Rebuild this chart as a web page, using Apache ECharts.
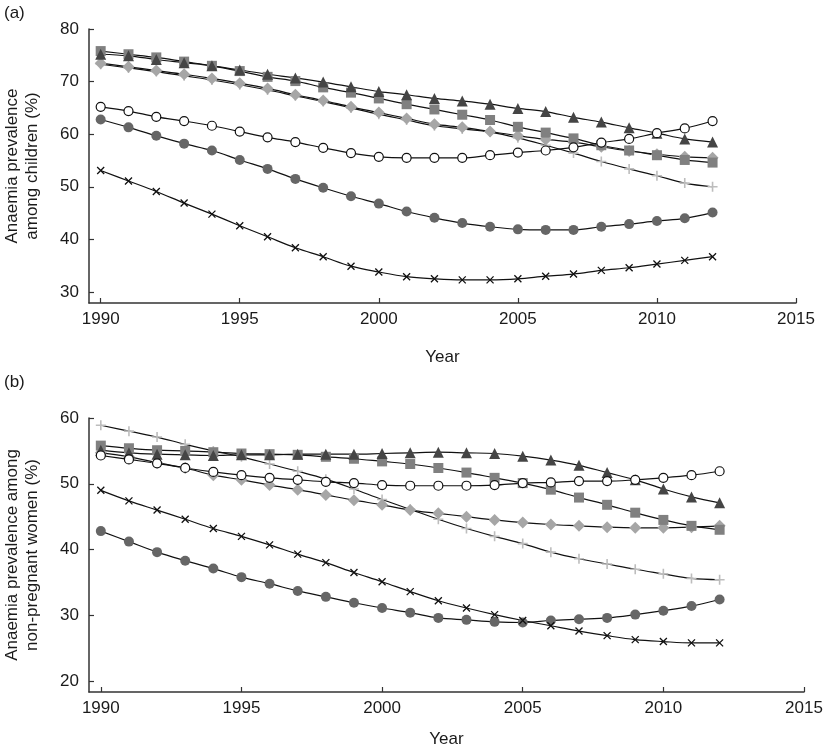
<!DOCTYPE html>
<html>
<head>
<meta charset="utf-8">
<script src="https://cdn.jsdelivr.net/npm/echarts@6/dist/echarts.min.js"></script>
<style>
html,body{margin:0;padding:0;background:#fff;}
#chart{width:827px;height:749px;}
</style>
</head>
<body>
<div id="chart"></div>
<script>
const years = [1990,1991,1992,1993,1994,1995,1996,1997,1998,1999,2000,2001,2002,2003,2004,2005,2006,2007,2008,2009,2010,2011,2012];
const xTicks = [1990,1995,2000,2005,2010,2015];
const yTicksA = [30,40,50,60,70,80];
const yTicksB = [20,30,40,50,60];

// Panel (a): children
const aOpenCircle = [65.2,64.4,63.3,62.5,61.6,60.5,59.4,58.5,57.4,56.4,55.7,55.5,55.5,55.5,56.0,56.5,56.9,57.5,58.4,59.1,60.2,61.1,62.5];
const aFilledCircle = [62.8,61.3,59.7,58.2,56.9,55.1,53.4,51.5,49.8,48.2,46.8,45.3,44.1,43.1,42.4,41.9,41.8,41.8,42.4,42.9,43.5,44.0,45.1];
const aCross = [53.1,51.1,49.1,46.9,44.8,42.6,40.5,38.4,36.7,34.9,33.8,32.9,32.5,32.3,32.3,32.5,33.0,33.4,34.1,34.6,35.3,36.0,36.7];
const aPlus = [73.3,72.6,71.9,71.1,70.3,69.4,68.4,67.3,66.2,65.0,63.8,62.7,61.6,61.0,60.4,59.3,57.9,56.4,54.8,53.4,52.1,50.7,50.0];
const aDiamond = [73.5,72.8,72.1,71.4,70.6,69.7,68.7,67.5,66.4,65.2,64.1,63.0,61.9,61.3,60.5,59.7,59.0,58.5,57.6,56.8,56.2,55.7,55.5];
const aSquare = [75.8,75.2,74.6,73.8,73.0,72.0,70.9,70.1,68.9,67.9,66.8,65.7,64.7,63.7,62.7,61.4,60.3,59.2,57.9,56.9,56.0,55.1,54.6];
const aTriangle = [75.2,74.9,74.2,73.6,73.0,72.2,71.4,70.7,69.9,69.0,68.1,67.5,66.8,66.3,65.7,64.9,64.3,63.2,62.3,61.2,60.2,59.1,58.5];

// Panel (b): non-pregnant women
const bOpenCircle = [54.3,53.7,53.1,52.4,51.8,51.3,50.9,50.6,50.3,50.1,49.8,49.7,49.7,49.7,49.8,50.1,50.2,50.4,50.4,50.6,50.9,51.3,51.9];
const bFilledCircle = [42.8,41.2,39.6,38.3,37.1,35.8,34.8,33.7,32.8,31.9,31.1,30.4,29.6,29.3,29.0,28.9,29.2,29.4,29.6,30.1,30.7,31.4,32.4];
const bCross = [49.0,47.4,46.0,44.6,43.2,42.0,40.7,39.3,38.0,36.5,35.1,33.6,32.2,31.1,30.1,29.2,28.4,27.6,26.9,26.3,26.0,25.8,25.8];
const bPlus = [58.9,58.0,57.1,56.0,55.0,54.1,53.0,51.9,50.7,49.2,47.6,46.1,44.6,43.2,42.0,40.9,39.6,38.6,37.8,37.0,36.3,35.6,35.4];
const bDiamond = [54.7,54.1,53.2,52.4,51.3,50.6,49.8,49.1,48.3,47.5,46.8,46.0,45.5,45.0,44.5,44.1,43.8,43.6,43.4,43.3,43.3,43.4,43.6];
const bSquare = [55.8,55.4,55.1,55.0,54.8,54.6,54.5,54.4,54.1,53.8,53.4,53.0,52.4,51.7,50.9,50.1,49.1,47.9,46.8,45.6,44.5,43.6,43.0];
const bTriangle = [55.1,54.7,54.5,54.4,54.3,54.4,54.4,54.5,54.5,54.5,54.6,54.7,54.8,54.7,54.6,54.2,53.6,52.8,51.7,50.6,49.2,48.0,47.1];

const FONT = "'Liberation Sans', Arial, sans-serif";
const PLUS = 'path://M0,5L10,5M5,0L5,10';
const CROSS = 'path://M0,0L10,10M0,10L10,0';

function pairs(vals){ return years.map((y,i)=>[y, vals[i]]); }

const styles = {
  openCircle: {symbol:'circle', symbolSize:9, itemStyle:{color:'#ffffff', borderColor:'#111', borderWidth:1.2}},
  filledCircle: {symbol:'circle', symbolSize:10, itemStyle:{color:'#666666', borderWidth:0}},
  cross: {symbol:CROSS, symbolSize:7, itemStyle:{color:'none', borderColor:'#111', borderWidth:1.3}},
  plus: {symbol:PLUS, symbolSize:10, itemStyle:{color:'none', borderColor:'#bdbdbd', borderWidth:1.6}},
  diamond: {symbol:'diamond', symbolSize:12, itemStyle:{color:'#a6a6a6', borderWidth:0}},
  square: {symbol:'rect', symbolSize:10, itemStyle:{color:'#808080', borderWidth:0}},
  triangle: {symbol:'triangle', symbolSize:11, itemStyle:{color:'#454545', borderWidth:0}}
};

function mk(name, vals, key, idx){
  const s = styles[key];
  return {
    name: name, type:'line', xAxisIndex: idx, yAxisIndex: idx,
    data: pairs(vals), smooth: 0.35, showAllSymbol: true,
    symbol: s.symbol, symbolSize: s.symbolSize, itemStyle: s.itemStyle,
    lineStyle: {color:'#111', width:1.2}, emphasis:{disabled:true}, animation:false, z: 2
  };
}

function xAxis(gridIndex){
  return {
    type:'value', gridIndex: gridIndex, min: 1989.58, max: 2015,
    name:'Year', nameLocation:'middle', nameGap: gridIndex===0 ? 46 : 39,
    nameTextStyle:{fontFamily:FONT, fontSize:17, color:'#1a1a1a'},
    axisLine:{show:true, lineStyle:{color:'#333', width:1.5}},
    axisTick:{show:true, inside:true, length:5, customValues: xTicks, lineStyle:{color:'#333', width:1.2}},
    axisLabel:{customValues: xTicks, formatter: v => String(Math.round(v)), fontFamily:FONT, fontSize:17, color:'#1a1a1a', margin:8},
    splitLine:{show:false}
  };
}
function yAxis(gridIndex, min, max, ticks, name){
  return {
    type:'value', gridIndex: gridIndex, min: min, max: max,
    name: name, nameLocation:'middle', nameGap: 47, nameRotate: 90,
    nameTextStyle:{fontFamily:FONT, fontSize:17, color:'#1a1a1a', lineHeight:20},
    axisLine:{show:true, lineStyle:{color:'#333', width:1.5}},
    axisTick:{show:true, inside:true, length:5, customValues: ticks, lineStyle:{color:'#333', width:1.2}},
    axisLabel:{customValues: ticks, formatter: v => String(Math.round(v)), fontFamily:FONT, fontSize:17, color:'#1a1a1a', margin:10},
    splitLine:{show:false}
  };
}

const chart = echarts.init(document.getElementById('chart'), null, {renderer:'canvas'});
chart.setOption({
  backgroundColor:'#ffffff',
  animation:false,
  graphic:[
    {type:'text', left:4, top:5, style:{text:'(a)', font:"17px 'Liberation Sans', Arial", fill:'#1a1a1a'}},
    {type:'text', left:4, top:374, style:{text:'(b)', font:"17px 'Liberation Sans', Arial", fill:'#1a1a1a'}}
  ],
  grid:[
    {left:89, top:29, width:707, height:274, containLabel:false, outerBoundsMode:'none'},
    {left:89, top:418, width:715, height:274, containLabel:false, outerBoundsMode:'none'}
  ],
  xAxis:[xAxis(0), xAxis(1)],
  yAxis:[
    yAxis(0, 27.9, 80, yTicksA, 'Anaemia prevalence\namong children (%)'),
    yAxis(1, 18.33, 60, yTicksB, 'Anaemia prevalence among\nnon-pregnant women (%)')
  ],
  series:[
    mk('a-plus', aPlus, 'plus', 0),
    mk('a-diamond', aDiamond, 'diamond', 0),
    mk('a-square', aSquare, 'square', 0),
    mk('a-triangle', aTriangle, 'triangle', 0),
    mk('a-open', aOpenCircle, 'openCircle', 0),
    mk('a-filled', aFilledCircle, 'filledCircle', 0),
    mk('a-cross', aCross, 'cross', 0),
    mk('b-plus', bPlus, 'plus', 1),
    mk('b-diamond', bDiamond, 'diamond', 1),
    mk('b-square', bSquare, 'square', 1),
    mk('b-triangle', bTriangle, 'triangle', 1),
    mk('b-open', bOpenCircle, 'openCircle', 1),
    mk('b-filled', bFilledCircle, 'filledCircle', 1),
    mk('b-cross', bCross, 'cross', 1)
  ]
});
</script>
</body>
</html>
